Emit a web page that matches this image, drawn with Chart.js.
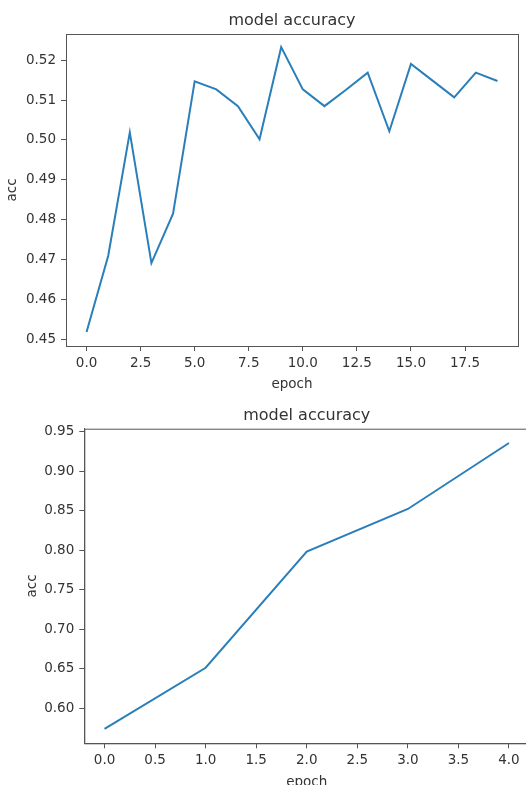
<!DOCTYPE html>
<html>
<head>
<meta charset="utf-8">
<script src="https://cdn.jsdelivr.net/npm/chart.js@4/dist/chart.umd.min.js"></script>
<style>
  html, body { margin: 0; padding: 0; background: #fff; overflow: hidden; width: 526px; height: 785px; }
  canvas { position: absolute; left: 0; }
  #topChart { top: 0; }
  #bottomChart { top: 395px; }
</style>
</head>
<body>
<canvas id="topChart" width="526" height="395"></canvas>
<canvas id="bottomChart" width="540" height="400"></canvas>
<script>
// first run: 20 epochs
const epochsTop = [0, 1, 2, 3, 4, 5, 6, 7, 8, 9, 10, 11, 12, 13, 14, 15, 16, 17, 18, 19];
const accTop = [0.4518, 0.4709, 0.5019, 0.4691, 0.4815, 0.5147, 0.5127, 0.5085, 0.5002, 0.5233,
                0.5127, 0.5085, 0.5126, 0.5169, 0.5022, 0.5191, 0.5149, 0.5107, 0.5169, 0.5148];

// second run: 5 epochs
const epochsBottom = [0, 1, 2, 3, 4];
const accBottom = [0.5741, 0.6515, 0.7985, 0.8525, 0.9360];

const FONT = "'DejaVu Sans', sans-serif";
const TXT = '#333';
const AXIS = '#555';

// draws the top and right spines like matplotlib
const boxPlugin = {
    id: 'box',
    afterDraw(chart) {
        const { ctx, chartArea: a } = chart;
        ctx.save();
        ctx.strokeStyle = AXIS;
        ctx.lineWidth = 1;
        ctx.strokeRect(a.left + 0.5, a.top + 0.5, a.right - a.left, a.bottom - a.top);
        ctx.restore();
    }
};

function makeChart(id, xs, ys, o) {
    const ctx = document.getElementById(id).getContext('2d');
    return new Chart(ctx, {
        type: 'line',
        data: {
            datasets: [{
                data: xs.map((x, i) => ({ x: x, y: ys[i] })),
                borderColor: '#2a7fba',
                borderWidth: 2,
                pointRadius: 0,
                tension: 0,
                fill: false
            }]
        },
        options: {
            responsive: false,
            animation: false,
            devicePixelRatio: 1,
            layout: { padding: { left: 0, right: o.padRight, top: 0, bottom: 0 } },
            plugins: {
                legend: { display: false },
                tooltip: { enabled: false },
                title: {
                    display: true,
                    text: 'model accuracy',
                    fullSize: false,
                    color: TXT,
                    font: { family: FONT, size: 16, weight: 'normal' },
                    padding: { top: 11, bottom: o.titleBottom }
                }
            },
            scales: {
                x: {
                    type: 'linear',
                    min: o.xMin, max: o.xMax,
                    afterFit(s) { s.height = o.xAxisH; },
                    border: { display: true, color: AXIS },
                    grid: { drawOnChartArea: false, drawTicks: true, tickLength: 5, color: AXIS },
                    ticks: {
                        stepSize: o.xStep, includeBounds: false, padding: 4,
                        color: TXT, font: { family: FONT, size: 13.5 },
                        maxRotation: 0, autoSkip: false,
                        callback: v => v.toFixed(1)
                    },
                    title: {
                        display: true, text: 'epoch', color: TXT,
                        font: { family: FONT, size: 13.5 },
                        padding: { top: 0, bottom: o.xTitlePad }
                    }
                },
                y: {
                    type: 'linear',
                    min: o.yMin, max: o.yMax,
                    afterFit(s) { s.width = o.yAxisW; },
                    border: { display: true, color: AXIS },
                    grid: { drawOnChartArea: false, drawTicks: true, tickLength: 5, color: AXIS },
                    ticks: {
                        stepSize: o.yStep, includeBounds: false, padding: 5,
                        color: TXT, font: { family: FONT, size: 13.5 },
                        autoSkip: false,
                        callback: v => v.toFixed(2)
                    },
                    title: {
                        display: true, text: 'acc', color: TXT,
                        font: { family: FONT, size: 13.5 },
                        padding: { top: o.yTitlePad, bottom: 0 }
                    }
                }
            }
        },
        plugins: [boxPlugin]
    });
}

makeChart('topChart', epochsTop, accTop, {
    padRight: 8, titleBottom: 3.8,
    xMin: -0.95, xMax: 19.95, xStep: 2.5, xAxisH: 49, xTitlePad: 2.8,
    yMin: 0.4483, yMax: 0.5266, yStep: 0.01, yAxisW: 66, yTitlePad: 4.4
});

makeChart('bottomChart', epochsBottom, accBottom, {
    padRight: 10.8, titleBottom: 3.5,
    xMin: -0.2, xMax: 4.2, xStep: 0.5, xAxisH: 51.7, xTitlePad: 4.6,
    yMin: 0.5559, yMax: 0.9541, yStep: 0.05, yAxisW: 84.3, yTitlePad: 23.9
});
</script>
</body>
</html>
